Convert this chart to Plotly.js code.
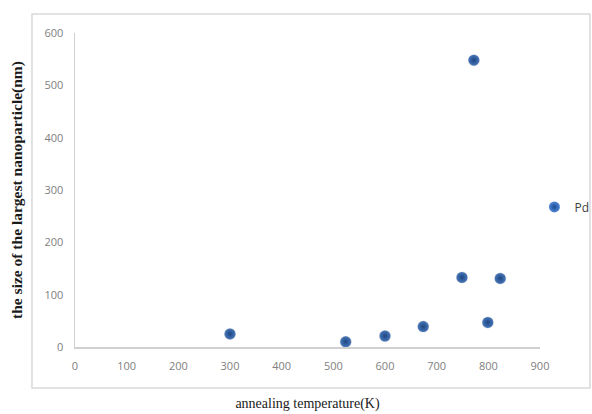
<!DOCTYPE html>
<html><head><meta charset="utf-8">
<script src="https://cdn.plot.ly/plotly-3.0.1.min.js"></script>
<style>html,body{margin:0;padding:0;background:#fff}</style>
</head><body>
<div id="chart" style="width:592px;height:414px"></div>
<script>
const seriesName = "Pd";
const temperatureK = [300, 524, 600, 674, 749, 772, 799, 823];
const largestSizeNm = [25, 10, 21, 39, 133, 548, 47, 131];
const xTickVals = [0, 100, 200, 300, 400, 500, 600, 700, 800, 900];
const yTickVals = [0, 100, 200, 300, 400, 500, 600];

const tickFont = {family: "Open Sans, Liberation Sans, sans-serif", size: 11, color: "#808080"};

const shadow = {
  x: temperatureK, y: largestSizeNm, xaxis: "x2", yaxis: "y2",
  type: "scatter", mode: "markers", showlegend: false, hoverinfo: "skip",
  marker: {size: 12, color: "rgba(40,40,40,0.16)", line: {width: 0}}
};
const main = {
  x: temperatureK, y: largestSizeNm, name: seriesName,
  type: "scatter", mode: "markers",
  marker: {size: 11, color: "#4f88d8", gradient: {type: "radial", color: "#1d4c92"}, line: {width: 0}}
};

const layout = {
  width: 592, height: 414,
  margin: {l: 75, r: 52, t: 33, b: 67, autoexpand: false},
  paper_bgcolor: "#fff", plot_bgcolor: "rgba(0,0,0,0)",
  xaxis: {
    range: [0, 900], tickvals: xTickVals, showgrid: false, zeroline: false,
    showline: true, linecolor: "#d0d0d0", linewidth: 1.5,
    ticks: "outside", ticklen: 8, tickcolor: "rgba(0,0,0,0)",
    tickfont: tickFont,
    title: {text: "annealing temperature(K)", standoff: 26,
      font: {family: "Liberation Serif, Times New Roman, serif", size: 14, color: "#1a1a1a"}}
  },
  yaxis: {
    range: [0, 600], tickvals: yTickVals, showgrid: false, zeroline: false,
    showline: true, linecolor: "#d0d0d0", linewidth: 1.5,
    ticks: "outside", ticklen: 8, tickcolor: "rgba(0,0,0,0)",
    tickfont: tickFont,
    title: {text: "<b>the size of the largest nanoparticle(nm)</b>", standoff: 18,
      font: {family: "Liberation Serif, Times New Roman, serif", size: 15.5, color: "#1a1a1a"}}
  },
  xaxis2: {range: [0, 900], domain: [0.006, 1.006], overlaying: "x", visible: false, anchor: "y2"},
  yaxis2: {range: [0, 600], domain: [-0.009, 0.991], overlaying: "y", visible: false, anchor: "x2"},
  showlegend: true,
  legend: {x: 0.988, y: 0.446, xanchor: "left", yanchor: "middle",
    font: {family: "Open Sans, Liberation Sans, sans-serif", size: 12, color: "#404040"},
    bgcolor: "rgba(0,0,0,0)", itemwidth: 30},
  shapes: [{type: "rect", xref: "paper", yref: "paper",
    x0: -0.0925, x1: 1.1075, y0: -0.1306, y1: 1.0605,
    line: {color: "#d9d9d9", width: 1.5}, fillcolor: "rgba(0,0,0,0)", layer: "below"}]
};

Plotly.newPlot("chart", [shadow, main], layout, {displayModeBar: false, staticPlot: true});
</script>
</body></html>
